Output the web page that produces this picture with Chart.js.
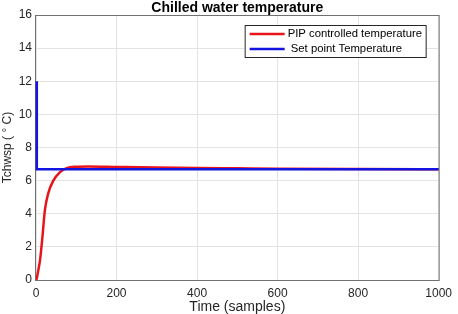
<!DOCTYPE html>
<html>
<head>
<meta charset="utf-8">
<script src="https://cdn.jsdelivr.net/npm/chart.js@4/dist/chart.umd.min.js"></script>
<style>
  html, body { margin: 0; padding: 0; background: #fff; }
</style>
</head>
<body>
<canvas id="tempChart" width="458" height="314"></canvas>
<script>
// PIP controlled temperature
var pipSamples = [0, 2, 5, 10, 16, 22, 30, 43, 59, 76, 100, 130, 200, 300, 400, 500, 600, 800, 1000];
var pipTemp = [0, 0.1, 0.5, 1.2, 2.6, 4.2, 5.2, 6.0, 6.5, 6.75, 6.84, 6.86, 6.83, 6.79, 6.76, 6.74, 6.72, 6.70, 6.69];

// set point step
var spSamples = [2, 2, 1000];
var spTemp = [12, 6.68, 6.68];

var xTicks = [0, 200, 400, 600, 800, 1000];
var yTicks = [0, 2, 4, 6, 8, 10, 12, 14, 16];

var seriesLabels = ["PIP controlled temperature", " Set point Temperature"];
var chartTitle = "Chilled water temperature";

function toPoints(xs, ys) {
  return xs.map(function (x, i) { return { x: x, y: ys[i] }; });
}

var FONT = "'Liberation Sans', Arial, sans-serif";
var TEXT = "#262626";

// MATLAB style box, title over the axes and legend inside the axes
var boxLegend = {
  id: "boxLegend",
  beforeDatasetsDraw: function (chart) {
    var c = chart.ctx, a = chart.chartArea;
    c.save();
    c.strokeStyle = "#707070";
    c.lineWidth = 1;
    c.strokeRect(a.left - 0.5, a.top + 0.5, a.right - a.left + 1, a.bottom - a.top);
    c.fillStyle = "#000";
    c.font = "bold 14px " + FONT;
    c.textAlign = "center";
    c.textBaseline = "middle";
    c.fillText(chartTitle, (a.left + a.right) / 2, 8);
    c.restore();
  },
  afterDatasetsDraw: function (chart) {
    var c = chart.ctx, a = chart.chartArea;
    c.save();
    var w = 181, h = 32;
    var lx = a.right - 13 - w, ly = a.top + 10;
    c.fillStyle = "#fff";
    c.fillRect(lx, ly, w, h);
    c.strokeStyle = "#262626";
    c.lineWidth = 1;
    c.strokeRect(lx + 0.5, ly + 0.5, w, h);
    c.font = "11.3px " + FONT;
    c.textBaseline = "middle";
    chart.data.datasets.forEach(function (ds, i) {
      var yy = ly + 9 + i * 15;
      c.strokeStyle = ds.borderColor;
      c.lineWidth = 2.5;
      c.beginPath();
      c.moveTo(lx + 5, yy);
      c.lineTo(lx + 40, yy);
      c.stroke();
      c.fillStyle = "#000";
      c.fillText(ds.label, lx + 43, yy);
    });
    c.restore();
  }
};

var ctx = document.getElementById("tempChart");
var tempChart = new Chart(ctx, {
  type: "scatter",
  data: {
    datasets: [{
      label: seriesLabels[0],
      data: toPoints(pipSamples, pipTemp),
      showLine: true,
      borderColor: "#e8141b",
      borderWidth: 2.5,
      pointRadius: 0,
      cubicInterpolationMode: "monotone",
      order: 1
    }, {
      label: seriesLabels[1],
      data: toPoints(spSamples, spTemp),
      showLine: true,
      borderColor: "#1414e0",
      borderWidth: 2.5,
      pointRadius: 0,
      tension: 0,
      clip: false,
      order: 0
    }]
  },
  options: {
    responsive: false,
    animation: false,
    layout: { padding: { left: 0, right: 18, top: 15, bottom: 0 } },
    plugins: {
      legend: { display: false },
      tooltip: { enabled: false }
    },
    scales: {
      x: {
        type: "linear",
        min: 0,
        max: 1000,
        afterBuildTicks: function (s) { s.ticks = xTicks.map(function (v) { return { value: v }; }); },
        afterFit: function (s) { s.height = 34; },
        ticks: {
          color: TEXT, font: { family: FONT, size: 12 }, padding: 6, maxRotation: 0,
          callback: function (v) { return String(v); }
        },
        grid: { color: "#e3e3e3", drawTicks: false },
        border: { display: false },
        title: {
          display: true,
          text: "Time (samples)",
          color: TEXT,
          font: { family: FONT, size: 14 },
          padding: { top: 0, bottom: -2 }
        }
      },
      y: {
        min: 0,
        max: 16,
        afterBuildTicks: function (s) { s.ticks = yTicks.map(function (v) { return { value: v }; }); },
        afterFit: function (s) { s.width = 36; },
        ticks: { color: TEXT, font: { family: FONT, size: 12 }, padding: 4 },
        grid: { color: "#e3e3e3", drawTicks: false },
        border: { display: false },
        title: {
          display: true,
          text: "Tchwsp ( \u00b0 C)",
          color: TEXT,
          font: { family: FONT, size: 12 },
          padding: { top: 0, bottom: 2 }
        }
      }
    }
  },
  plugins: [boxLegend]
});
</script>
</body>
</html>
